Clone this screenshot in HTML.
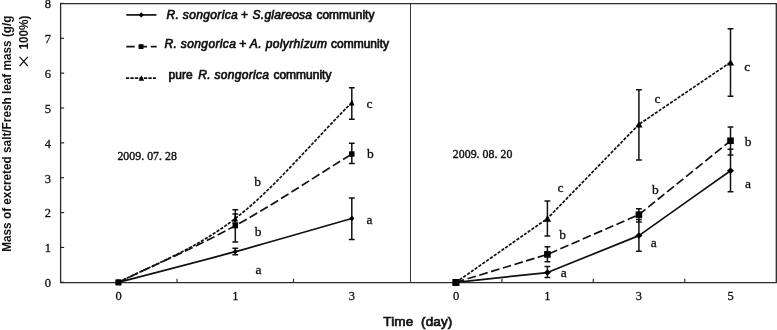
<!DOCTYPE html>
<html><head><meta charset="utf-8"><style>
html,body{margin:0;padding:0;background:#fff;}
svg{display:block;filter:blur(0.35px)}
.tk{font-family:"Liberation Serif",serif;font-size:12.5px;fill:#111;stroke:#111;stroke-width:0.3px}
.lt{font-family:"Liberation Serif",serif;font-size:13.5px;fill:#111;stroke:#111;stroke-width:0.3px}
.dt{font-family:"Liberation Serif",serif;font-size:11.8px;fill:#111;stroke:#111;stroke-width:0.4px}
.lg{font-family:"Liberation Sans",sans-serif;font-size:12px;fill:#111;stroke:#111;stroke-width:0.7px}
.yl{font-family:"Liberation Sans",sans-serif;font-size:12.4px;font-weight:bold;fill:#111}
.xl{font-family:"Liberation Sans",sans-serif;font-size:13.5px;fill:#111;stroke:#111;stroke-width:0.7px}
</style></head><body>
<svg width="777" height="330" viewBox="0 0 777 330">
<rect width="777" height="330" fill="#fff"/>
<path d="M60.6,3.7 H776.3 V282.65 H60.6 Z" fill="none" stroke="#2b2b2b" stroke-width="1.3"/><path d="M410.5,3.7 V282.3" stroke="#333" stroke-width="1"/>
<path d="M60.5,282.30 h3.6" stroke="#222" stroke-width="1.15"/>
<path d="M60.5,247.44 h3.6" stroke="#222" stroke-width="1.15"/>
<path d="M60.5,212.58 h3.6" stroke="#222" stroke-width="1.15"/>
<path d="M60.5,177.72 h3.6" stroke="#222" stroke-width="1.15"/>
<path d="M60.5,142.86 h3.6" stroke="#222" stroke-width="1.15"/>
<path d="M60.5,108.00 h3.6" stroke="#222" stroke-width="1.15"/>
<path d="M60.5,73.14 h3.6" stroke="#222" stroke-width="1.15"/>
<path d="M60.5,38.28 h3.6" stroke="#222" stroke-width="1.15"/>
<path d="M60.5,3.42 h3.6" stroke="#222" stroke-width="1.15"/>
<path d="M177.00,282.6 v-3.9" stroke="#2b2b2b" stroke-width="1.15"/>
<path d="M293.50,282.6 v-3.9" stroke="#2b2b2b" stroke-width="1.15"/>
<path d="M501.90,282.6 v-3.9" stroke="#2b2b2b" stroke-width="1.15"/>
<path d="M593.30,282.6 v-3.9" stroke="#2b2b2b" stroke-width="1.15"/>
<path d="M684.80,282.6 v-3.9" stroke="#2b2b2b" stroke-width="1.15"/>
<path d="M118.60,282.30 C157.50,272.07 196.43,262.26 235.30,251.62 C274.17,240.99 312.97,229.55 351.80,218.51" fill="none" stroke="#111" stroke-width="1.7" stroke-linejoin="round"/>
<path d="M118.60,282.30 C157.50,263.42 196.43,247.03 235.30,225.65 C274.17,204.27 312.97,177.89 351.80,154.02" fill="none" stroke="#111" stroke-width="1.7" stroke-dasharray="8.7 3.5" stroke-linejoin="round"/>
<path d="M118.60,282.30 C157.50,262.85 196.43,248.46 235.30,218.51 C274.17,188.56 312.97,141.23 351.80,102.60" fill="none" stroke="#111" stroke-width="1.7" stroke-dasharray="3.2 1.4" stroke-linejoin="round"/>
<path d="M456.00,282.30 C486.47,279.05 547.40,272.54 547.40,272.54 C547.40,272.54 638.90,235.59 638.90,235.59 C638.90,235.59 699.97,192.36 730.50,170.75" fill="none" stroke="#111" stroke-width="1.7" stroke-linejoin="round"/>
<path d="M456.00,282.30 C486.47,273.00 547.40,254.41 547.40,254.41 C547.40,254.41 638.90,214.67 638.90,214.67 C638.90,214.67 699.97,165.40 730.50,140.77" fill="none" stroke="#111" stroke-width="1.7" stroke-dasharray="8.7 3.5" stroke-linejoin="round"/>
<path d="M456.00,282.30 C486.47,261.04 547.40,218.51 547.40,218.51 C547.40,218.51 638.90,124.38 638.90,124.38 C638.90,124.38 699.97,83.02 730.50,62.33" fill="none" stroke="#111" stroke-width="1.7" stroke-dasharray="3.2 1.4" stroke-linejoin="round"/>
<path d="M235.30,248.14 V254.76 M232.40,248.14 H238.20 M232.40,254.76 H238.20" fill="none" stroke="#111" stroke-width="1.5"/>
<path d="M235.30,209.79 V242.00 M232.40,209.79 H238.20 M232.40,242.00 H238.20" fill="none" stroke="#111" stroke-width="1.5"/>
<path d="M235.30,214.11 V223.04 M232.40,214.11 H238.20 M232.40,223.04 H238.20" fill="none" stroke="#111" stroke-width="1.5"/>
<path d="M351.80,197.94 V239.42 M348.90,197.94 H354.70 M348.90,239.42 H354.70" fill="none" stroke="#111" stroke-width="1.5"/>
<path d="M351.80,143.21 V163.43 M348.90,143.21 H354.70 M348.90,163.43 H354.70" fill="none" stroke="#111" stroke-width="1.5"/>
<path d="M351.80,87.78 V119.16 M348.90,87.78 H354.70 M348.90,119.16 H354.70" fill="none" stroke="#111" stroke-width="1.5"/>
<path d="M547.40,266.61 V277.42 M544.50,266.61 H550.30 M544.50,277.42 H550.30" fill="none" stroke="#111" stroke-width="1.5"/>
<path d="M547.40,246.74 V261.73 M544.50,246.74 H550.30 M544.50,261.73 H550.30" fill="none" stroke="#111" stroke-width="1.5"/>
<path d="M547.40,201.08 V235.94 M544.50,201.08 H550.30 M544.50,235.94 H550.30" fill="none" stroke="#111" stroke-width="1.5"/>
<path d="M638.90,219.55 V251.27 M636.00,219.55 H641.80 M636.00,251.27 H641.80" fill="none" stroke="#111" stroke-width="1.5"/>
<path d="M638.90,208.75 V221.99 M636.00,208.75 H641.80 M636.00,221.99 H641.80" fill="none" stroke="#111" stroke-width="1.5"/>
<path d="M638.90,89.87 V159.94 M636.00,89.87 H641.80 M636.00,159.94 H641.80" fill="none" stroke="#111" stroke-width="1.5"/>
<path d="M730.50,149.31 V191.66 M727.60,149.31 H733.40 M727.60,191.66 H733.40" fill="none" stroke="#111" stroke-width="1.5"/>
<path d="M730.50,127.00 V155.06 M727.60,127.00 H733.40 M727.60,155.06 H733.40" fill="none" stroke="#111" stroke-width="1.5"/>
<path d="M730.50,28.87 V96.15 M727.60,28.87 H733.40 M727.60,96.15 H733.40" fill="none" stroke="#111" stroke-width="1.5"/>
<path d="M118.60,279.35 l2.55,2.95 l-2.55,2.95 l-2.55,-2.95 z" fill="#000"/>
<path d="M235.30,248.67 l2.55,2.95 l-2.55,2.95 l-2.55,-2.95 z" fill="#000"/>
<path d="M351.80,215.56 l2.55,2.95 l-2.55,2.95 l-2.55,-2.95 z" fill="#000"/>
<rect x="115.88" y="279.58" width="5.44" height="5.44" fill="#000"/>
<rect x="232.58" y="222.93" width="5.44" height="5.44" fill="#000"/>
<rect x="349.08" y="151.30" width="5.44" height="5.44" fill="#000"/>
<path d="M118.60,279.20 l2.70,6.10 h-5.40 z" fill="#000"/>
<path d="M235.30,215.41 l2.70,6.10 h-5.40 z" fill="#000"/>
<path d="M351.80,99.50 l2.70,6.10 h-5.40 z" fill="#000"/>
<path d="M456.00,279.15 l3.55,3.15 l-3.55,3.15 l-3.55,-3.15 z" fill="#000"/>
<path d="M547.40,269.39 l3.55,3.15 l-3.55,3.15 l-3.55,-3.15 z" fill="#000"/>
<path d="M638.90,232.44 l3.55,3.15 l-3.55,3.15 l-3.55,-3.15 z" fill="#000"/>
<path d="M730.50,167.60 l3.55,3.15 l-3.55,3.15 l-3.55,-3.15 z" fill="#000"/>
<rect x="452.70" y="279.00" width="6.60" height="6.60" fill="#000"/>
<rect x="544.10" y="251.11" width="6.60" height="6.60" fill="#000"/>
<rect x="635.60" y="211.37" width="6.60" height="6.60" fill="#000"/>
<rect x="727.20" y="137.47" width="6.60" height="6.60" fill="#000"/>
<path d="M456.00,279.10 l3.65,6.40 h-7.30 z" fill="#000"/>
<path d="M547.40,215.31 l3.65,6.40 h-7.30 z" fill="#000"/>
<path d="M638.90,121.18 l3.65,6.40 h-7.30 z" fill="#000"/>
<path d="M730.50,59.13 l3.65,6.40 h-7.30 z" fill="#000"/>
<rect x="452.50" y="279.10" width="6.7" height="6.7" fill="#000"/>
<rect x="115.40" y="279.50" width="5.8" height="5.8" fill="#000"/>
<text x="47.8" y="287.20" class="tk" text-anchor="middle">0</text>
<text x="47.8" y="252.34" class="tk" text-anchor="middle">1</text>
<text x="47.8" y="217.48" class="tk" text-anchor="middle">2</text>
<text x="47.8" y="182.62" class="tk" text-anchor="middle">3</text>
<text x="47.8" y="147.76" class="tk" text-anchor="middle">4</text>
<text x="47.8" y="112.90" class="tk" text-anchor="middle">5</text>
<text x="47.8" y="78.04" class="tk" text-anchor="middle">6</text>
<text x="47.8" y="43.18" class="tk" text-anchor="middle">7</text>
<text x="47.8" y="8.32" class="tk" text-anchor="middle">8</text>
<text x="118.60" y="299.6" class="tk" text-anchor="middle">0</text>
<text x="235.30" y="299.6" class="tk" text-anchor="middle">1</text>
<text x="351.80" y="299.6" class="tk" text-anchor="middle">3</text>
<text x="456.00" y="299.6" class="tk" text-anchor="middle">0</text>
<text x="547.40" y="299.6" class="tk" text-anchor="middle">1</text>
<text x="638.90" y="299.6" class="tk" text-anchor="middle">3</text>
<text x="730.50" y="299.6" class="tk" text-anchor="middle">5</text>
<text x="257.60" y="185.70" class="lt" text-anchor="middle">b</text>
<text x="258.10" y="236.20" class="lt" text-anchor="middle">b</text>
<text x="258.40" y="274.00" class="lt" text-anchor="middle">a</text>
<text x="369.50" y="108.30" class="lt" text-anchor="middle">c</text>
<text x="370.30" y="157.80" class="lt" text-anchor="middle">b</text>
<text x="369.60" y="224.30" class="lt" text-anchor="middle">a</text>
<text x="560.50" y="191.60" class="lt" text-anchor="middle">c</text>
<text x="562.60" y="239.20" class="lt" text-anchor="middle">b</text>
<text x="563.80" y="277.00" class="lt" text-anchor="middle">a</text>
<text x="657.50" y="103.00" class="lt" text-anchor="middle">c</text>
<text x="653.70" y="246.80" class="lt" text-anchor="middle">a</text>
<text x="655.30" y="194.30" class="lt" text-anchor="middle">b</text>
<text x="747.20" y="71.20" class="lt" text-anchor="middle">c</text>
<text x="748.00" y="145.60" class="lt" text-anchor="middle">b</text>
<text x="748.10" y="188.00" class="lt" text-anchor="middle">a</text>
<!-- legend -->
<path d="M126.3,14.9 H156.5" stroke="#111" stroke-width="1.7"/>
<path d="M141.3,12.2 l2.7,2.7 l-2.7,2.7 l-2.7,-2.7 z" fill="#000"/>
<path d="M126.3,46.6 H156.7" stroke="#111" stroke-width="1.7" stroke-dasharray="8.4 3.85"/>
<rect x="138.7" y="44.2" width="4.8" height="4.8" fill="#000"/>
<path d="M125.9,78.1 H155.9" stroke="#111" stroke-width="1.7" stroke-dasharray="3.3 1.2"/>
<path d="M141.4,75.3 l2.8,5.4 h-5.6 z" fill="#000"/>
<g class="lg">
<text x="166.4" y="19.1" font-style="italic" textLength="71.3" lengthAdjust="spacing">R. songorica</text>
<text x="240.9" y="19.1">+</text>
<text x="252.6" y="19.1" font-style="italic" textLength="59.4" lengthAdjust="spacing">S.glareosa</text>
<text x="374.4" y="19.1" text-anchor="end">community</text>
<text x="164.4" y="47.7" font-style="italic" textLength="71.5" lengthAdjust="spacing">R. songorica</text>
<text x="239.2" y="47.7">+</text>
<text x="249.8" y="47.7" font-style="italic" textLength="77.3" lengthAdjust="spacing">A. polyrhizum</text>
<text x="389" y="47.7" text-anchor="end">community</text>
<text x="168.6" y="79.2">pure</text>
<text x="198.2" y="79.2" font-style="italic" textLength="70.7" lengthAdjust="spacing">R. songorica</text>
<text x="331.4" y="79.2" text-anchor="end">community</text>
</g>
<text class="dt" y="159.5" x="117.4" textLength="59.5" lengthAdjust="spacing">2009. 07. 28</text>
<text class="dt" y="157.7" x="452.8" textLength="59.5" lengthAdjust="spacing">2009. 08. 20</text>
<text class="xl" x="383.3" y="326.1" textLength="69" lengthAdjust="spacing">Time&#160;&#160;(day)</text>
<text class="yl" transform="translate(11.2,251.8) rotate(-90)" textLength="236.3" lengthAdjust="spacingAndGlyphs">Mass of excreted salt/Fresh leaf mass (g/g</text>
<text class="yl" style="font-size:12.6px" transform="translate(28.2,49.6) rotate(-90)" textLength="34.1" lengthAdjust="spacingAndGlyphs">100%)</text>
<path d="M19.6,56.8 L27.8,66 M27.8,56.8 L19.6,66" stroke="#111" stroke-width="1.15" fill="none"/>
</svg>
</body></html>
